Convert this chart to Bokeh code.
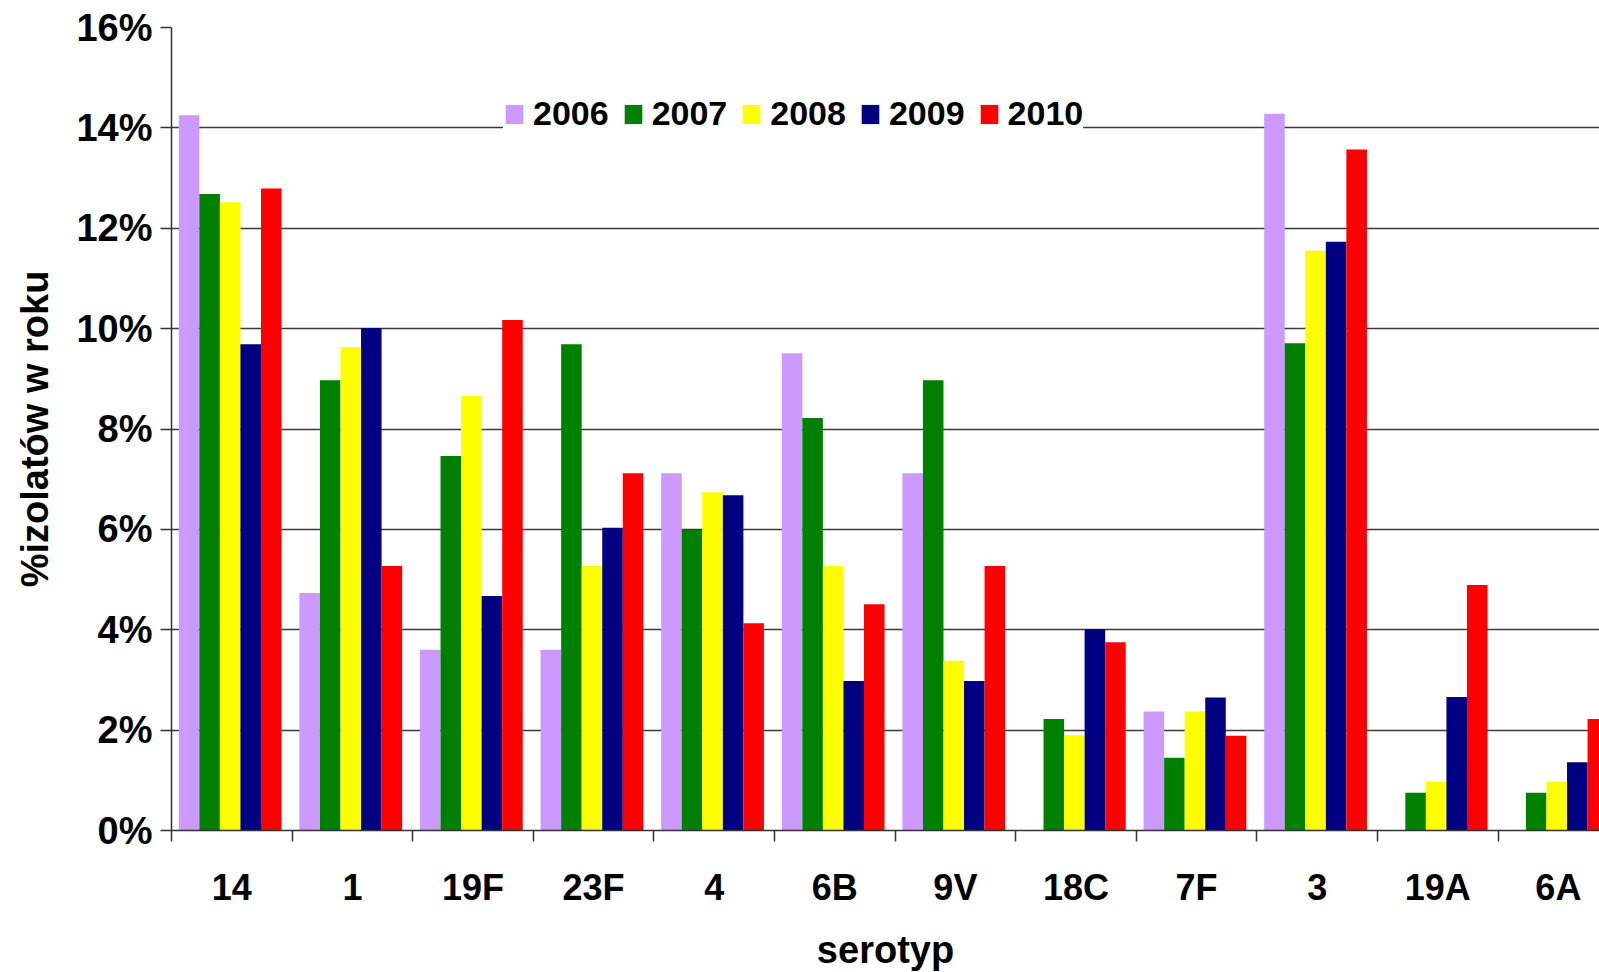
from bokeh.plotting import figure
from bokeh.models import ColumnDataSource, FixedTicker, PrintfTickFormatter, Legend, LegendItem
from bokeh.transform import dodge
from bokeh.embed import file_html
from bokeh.resources import INLINE

categories = ["14", "1", "19F", "23F", "4", "6B", "9V", "18C", "7F", "3", "19A", "6A"]
years = ["2006", "2007", "2008", "2009", "2010"]
v2006 = [14.25, 4.73, 3.60, 3.60, 7.12, 9.51, 7.12, 0.0, 2.37, 14.28, 0.0, 0.0]
v2007 = [12.68, 8.97, 7.46, 9.69, 5.99, 8.22, 8.97, 2.22, 1.45, 9.71, 0.75, 0.75]
v2008 = [12.52, 9.63, 8.66, 5.27, 6.74, 5.27, 3.38, 1.90, 2.37, 11.55, 0.97, 0.97]
v2009 = [9.69, 10.01, 4.67, 6.03, 6.68, 2.98, 2.98, 4.01, 2.65, 11.73, 2.66, 1.36]
v2010 = [12.79, 5.27, 10.17, 7.12, 4.13, 4.51, 5.27, 3.75, 1.89, 13.57, 4.89, 2.22]
colors = ["#CC99FF", "#008000", "#FFFF00", "#000080", "#FF0000"]
y_ticks = [0, 2, 4, 6, 8, 10, 12, 14, 16]

series = [v2006, v2007, v2008, v2009, v2010]
n = len(categories)
bar_w = 0.1704
group_start = 0.0605

src = ColumnDataSource(dict(
    xc=[i + group_start + bar_w / 2 for i in range(n)],
    **{y: s for y, s in zip(years, series)}
))

FONT = "Liberation Sans"

p = figure(width=1599, height=964, output_backend="svg", toolbar_location=None,
           x_range=(0, 11.841), y_range=(0, 16),
           min_border_left=171, min_border_top=27, min_border_right=0, min_border_bottom=134,
           frame_width=1428, frame_height=803)
p.outline_line_color = None
p.background_fill_color = "white"

renderers = []
for k, (yr, col) in enumerate(zip(years, colors)):
    r = p.vbar(x=dodge("xc", k * bar_w, range=p.x_range), top=yr, width=bar_w,
               bottom=0, source=src, fill_color=col, line_color=None)
    renderers.append(r)

# x axis
p.xaxis.ticker = FixedTicker(ticks=[i + 0.5 for i in range(n)], minor_ticks=list(range(n + 1)))
p.xaxis.major_label_overrides = {i + 0.5: c for i, c in enumerate(categories)}
p.xaxis.major_tick_out = 0
p.xaxis.major_tick_in = 0
p.xaxis.minor_tick_out = 11
p.xaxis.minor_tick_in = 0
p.xaxis.minor_tick_line_color = "#333333"
p.xaxis.minor_tick_line_width = 1.5
p.xaxis.axis_line_color = "#333333"
p.xaxis.axis_line_width = 1.5
p.xaxis.major_label_standoff = 25
p.xaxis.major_label_text_font = FONT
p.xaxis.major_label_text_font_style = "bold"
p.xaxis.major_label_text_font_size = "36px"
p.xaxis.major_label_text_color = "black"
p.xaxis.axis_label = "serotyp"
p.xaxis.axis_label_text_font = FONT
p.xaxis.axis_label_text_font_style = "bold"
p.xaxis.axis_label_text_font_size = "38px"
p.xaxis.axis_label_text_color = "black"
p.xaxis.axis_label_standoff = 18
p.xgrid.visible = False

# y axis
p.yaxis.ticker = FixedTicker(ticks=y_ticks, minor_ticks=[])
p.yaxis.formatter = PrintfTickFormatter(format="%d%%")
p.yaxis.major_tick_out = 11
p.yaxis.major_tick_in = 0
p.yaxis.major_tick_line_color = "#333333"
p.yaxis.major_tick_line_width = 1.5
p.yaxis.axis_line_color = "#333333"
p.yaxis.axis_line_width = 1.5
p.yaxis.major_label_standoff = 8
p.yaxis.major_label_text_font = FONT
p.yaxis.major_label_text_font_style = "bold"
p.yaxis.major_label_text_font_size = "38px"
p.yaxis.major_label_text_color = "black"
p.yaxis.axis_label = "%izolatów w roku"
p.yaxis.axis_label_text_font = FONT
p.yaxis.axis_label_text_font_style = "bold"
p.yaxis.axis_label_text_font_size = "38px"
p.yaxis.axis_label_text_color = "black"
p.yaxis.axis_label_standoff = 17
p.ygrid.ticker = FixedTicker(ticks=y_ticks)
p.ygrid.grid_line_color = "#3a3a3a"
p.ygrid.grid_line_width = 1.5

legend = Legend(items=[LegendItem(label=yr, renderers=[r]) for yr, r in zip(years, renderers)],
                orientation="horizontal", location=(332, 697),
                glyph_width=22, glyph_height=24, label_standoff=8, spacing=13,
                padding=8, margin=0,
                label_text_font=FONT, label_text_font_style="bold",
                label_text_font_size="34px", label_text_color="black",
                background_fill_color="white", background_fill_alpha=1.0,
                border_line_color=None)
p.add_layout(legend, "center")

open("out.html", "w").write(file_html(p, INLINE))
